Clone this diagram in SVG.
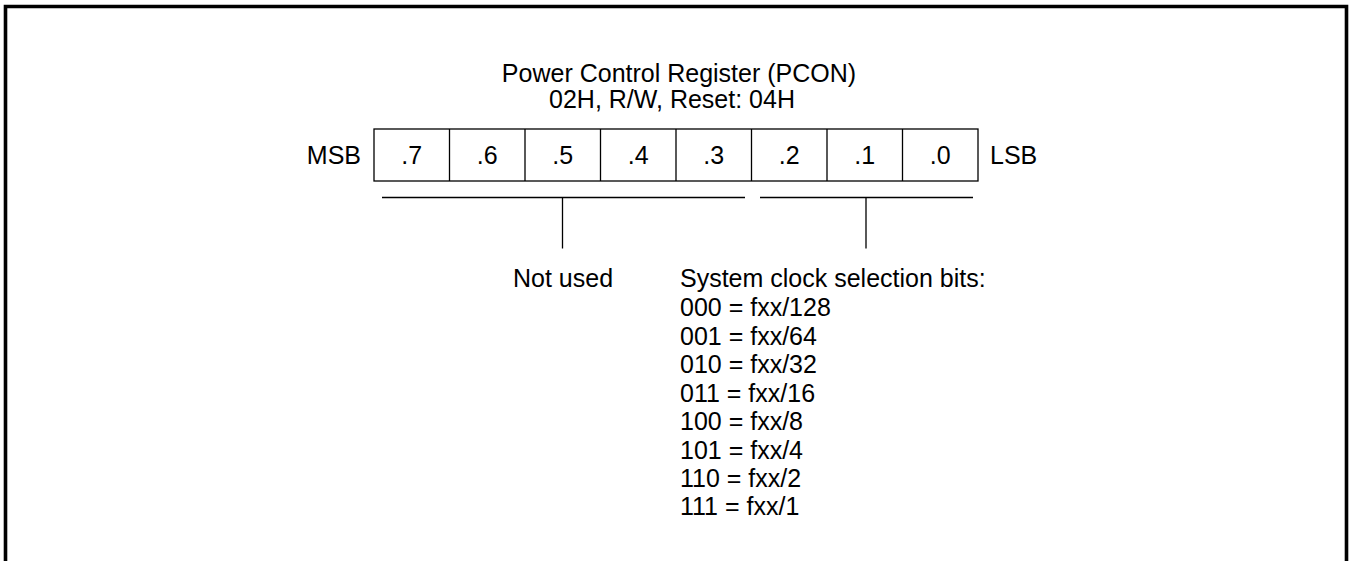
<svg xmlns="http://www.w3.org/2000/svg" width="1354" height="561" viewBox="0 0 1354 561">
<style>
text{font-family:"Liberation Sans",Arial,sans-serif;font-size:25px;fill:#000}
.c{text-anchor:middle}
.ln{stroke:#000;stroke-width:1.3;fill:none}
</style>
<rect width="1354" height="561" fill="#fff"/>
<path d="M5.5,561 V6.5 H1346.5 V561" fill="none" stroke="#000" stroke-width="3.6"/>
<g id="title">
<text class="c" x="679" y="82">Power Control Register (PCON)</text>
<text class="c" x="672" y="107.5">02H, R/W, Reset: 04H</text>
</g>
<g id="register">
<text x="361" y="163.5" text-anchor="end">MSB</text>
<rect class="ln" x="374" y="129" width="604" height="52"/>
<path class="ln" d="M449.5,129V181M525,129V181M600.5,129V181M676,129V181M751.5,129V181M827,129V181M902.5,129V181"/>
<text class="c" x="411.75" y="163.5">.7</text>
<text class="c" x="487.25" y="163.5">.6</text>
<text class="c" x="562.75" y="163.5">.5</text>
<text class="c" x="638.25" y="163.5">.4</text>
<text class="c" x="713.75" y="163.5">.3</text>
<text class="c" x="789.25" y="163.5">.2</text>
<text class="c" x="864.75" y="163.5">.1</text>
<text class="c" x="940.25" y="163.5">.0</text>
<text x="990" y="163.5">LSB</text>
</g>
<g id="connectors">
<path class="ln" d="M382,197.5H745M562.5,197.5V248.5"/>
<path class="ln" d="M760,197.5H973M866,197.5V248.5"/>
</g>
<g id="not-used">
<text class="c" x="563" y="287">Not used</text>
</g>
<g id="clock-select">
<text x="680" y="287">System clock selection bits:</text>
<text x="680" y="316">000 = fxx/128</text>
<text x="680" y="344.5">001 = fxx/64</text>
<text x="680" y="373">010 = fxx/32</text>
<text x="680" y="401.5">011 = fxx/16</text>
<text x="680" y="430">100 = fxx/8</text>
<text x="680" y="458.5">101 = fxx/4</text>
<text x="680" y="487">110 = fxx/2</text>
<text x="680" y="515">111 = fxx/1</text>
</g>
</svg>
